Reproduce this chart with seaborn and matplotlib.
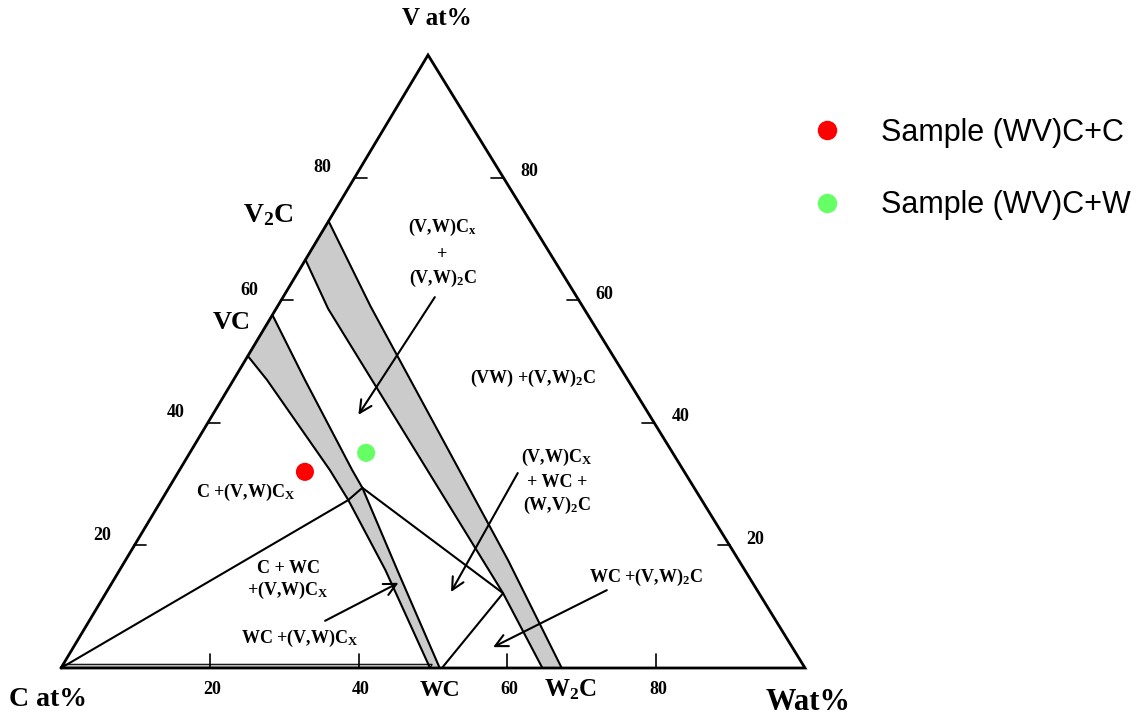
import numpy as np
import pandas as pd
import matplotlib
matplotlib.use("Agg")
import matplotlib.pyplot as plt
import seaborn as sns
from matplotlib.lines import Line2D

# ---------------- data: compositions in at% (W, V); C = 100 - W - V ----------------
tick_values = [20, 40, 60, 80]

# (V,W)Cx single-phase band (left / right boundaries, top -> bottom)
vc_left_w = [0.0, 4.5, 20.2, 25.1, 35.7, 49.6]
vc_left_v = [50.9, 47.0, 32.3, 27.4, 16.0, 0.0]
vc_right_w = [0.0, 9.6, 23.2, 26.0, 37.3, 50.9]
vc_right_v = [57.6, 47.0, 32.3, 29.4, 16.0, 0.0]

# (V,W)2C single-phase band
w2c_left_w = [0.0, 7.0, 48.0, 53.4, 64.7]
w2c_left_v = [66.6, 58.6, 17.6, 12.2, 0.0]
w2c_right_w = [0.0, 12.5, 51.4, 67.3]
w2c_right_v = [72.9, 59.0, 17.6, 0.0]

# tie lines
tie_c_w = [0.0, 25.1, 26.0]
tie_c_v = [0.0, 27.4, 29.4]
tie_3_w = [26.0, 53.4, 51.2]
tie_3_v = [29.4, 12.2, 0.0]
c_wc_w = [0.0, 49.6, 49.6, 0.0]
c_wc_v = [0.0, 0.0, 0.6, 0.6]

# arrows (start -> end)
arrow_start_w = [20.4, 45.7, 67.1, 31.7]
arrow_start_v = [60.5, 31.8, 12.7, 7.7]
arrow_end_w = [19.6, 46.3, 56.4, 38.5]
arrow_end_v = [41.3, 12.4, 3.4, 13.9]

# samples
sample_names = ["Sample (WV)C+C", "Sample (WV)C+W"]
sample_w = [17.0, 23.7]
sample_v = [32.0, 35.1]
sample_colors = ["#ff0000", "#66ff66"]

# region labels
region_labels = ["(V,W)C$_{\\mathrm{x}}$", "+", "(V,W)$_{\\mathrm{2}}$C",
                 "(VW) +(V,W)$_{\\mathrm{2}}$C",
                 "(V,W)C$_{\\mathrm{X}}$", "+ WC +", "(W,V)$_{\\mathrm{2}}$C",
                 "C +(V,W)C$_{\\mathrm{X}}$",
                 "C + WC", "+(V,W)C$_{\\mathrm{X}}$",
                 "WC +(V,W)C$_{\\mathrm{X}}$",
                 "WC +(V,W)$_{\\mathrm{2}}$C"]
region_w = [15.9, 18.0, 20.0, 40.1, 49.7, 51.7, 53.6, 10.7, 22.5, 24.2, 29.7, 71.4]
region_v = [71.8, 67.5, 63.5, 47.3, 34.4, 30.3, 26.6, 28.7, 16.3, 12.7, 4.9, 14.7]

phase_labels = ["V$_{\\mathrm{2}}$C", "VC", "WC", "W$_{\\mathrm{2}}$C"]
phase_w = [-8.6, -4.9, 52.7, 70.2]
phase_v = [73.9, 56.4, -3.6, -3.6]
phase_sizes = [20, 19, 17, 18]

axis_labels = ["V at%", "C at%", "Wat%"]
axis_w = [-1.8, 0.8, 103.2]
axis_v = [106.0, -5.2, -5.7]
axis_sizes = [18, 20, 22]

# ---------------- geometry ----------------
APEX = 0.4933


def to_xy(w, v):
    w = np.asarray(w, dtype=float) / 100.0
    v = np.asarray(v, dtype=float) / 100.0
    return w + APEX * v, v


sns.set_theme(style="white")
plt.rcParams["font.family"] = ["Liberation Serif", "DejaVu Serif"]
plt.rcParams["text.color"] = "black"
plt.rcParams["mathtext.fontset"] = "custom"
plt.rcParams["mathtext.rm"] = "Liberation Serif:bold"
plt.rcParams["mathtext.it"] = "Liberation Serif:italic:bold"
plt.rcParams["mathtext.bf"] = "Liberation Serif:bold"

fig = plt.figure(figsize=(11.42, 7.2), dpi=100)
ax = fig.add_axes([0, 0, 1, 1])

# bands
for lw_, lv_, rw_, rv_ in [(vc_left_w, vc_left_v, vc_right_w, vc_right_v),
                           (w2c_left_w, w2c_left_v, w2c_right_w, w2c_right_v)]:
    px, py = to_xy(list(lw_) + list(rw_)[::-1], list(lv_) + list(rv_)[::-1])
    ax.fill(px, py, facecolor="#cbcbcb", edgecolor="none", zorder=1)
    x1, y1 = to_xy(lw_, lv_)
    ax.plot(x1, y1, color="black", lw=1.5, zorder=3)
    x2, y2 = to_xy(rw_, rv_)
    ax.plot(x2, y2, color="black", lw=1.5, zorder=3)

# C + WC strip along the base
bx, by = to_xy(c_wc_w, c_wc_v)
ax.fill(bx, by, facecolor="#bdbdbd", edgecolor="black", lw=0.8, zorder=2)

# tie lines
for tw, tv in [(tie_c_w, tie_c_v), (tie_3_w, tie_3_v)]:
    x, y = to_xy(tw, tv)
    ax.plot(x, y, color="black", lw=1.5, zorder=3)

# triangle
tx, ty = to_xy([0, 100, 0, 0], [0, 0, 100, 0])
ax.plot(tx, ty, color="black", lw=2.0, zorder=4, solid_joinstyle="miter")

# ticks + tick labels
tick_h = 12 / 744
tick_vlen = 14 / 613
for t in tick_values:
    lx, ly = to_xy(0, t)
    ax.plot([lx, lx + tick_h], [ly, ly], color="black", lw=1.2, zorder=4)
    ax.annotate(str(t), xy=(lx, ly), xytext=(-32, 10), textcoords="offset pixels",
                ha="center", va="center", fontsize=13, fontweight="bold")
    rx, ry = to_xy(100 - t, t)
    ax.plot([rx - tick_h, rx], [ry, ry], color="black", lw=1.2, zorder=4)
    ax.annotate(str(t), xy=(rx, ry), xytext=(26, 6), textcoords="offset pixels",
                ha="center", va="center", fontsize=13, fontweight="bold")
    bxx, byy = to_xy(t, 0)
    ax.plot([bxx, bxx], [byy, byy + tick_vlen], color="black", lw=1.2, zorder=4)
    ax.annotate(str(t), xy=(bxx, byy), xytext=(2, -22), textcoords="offset pixels",
                ha="center", va="center", fontsize=13, fontweight="bold")

# arrows
sx, sy = to_xy(arrow_start_w, arrow_start_v)
ex, ey = to_xy(arrow_end_w, arrow_end_v)
for i in range(len(sx)):
    ax.annotate("", xy=(ex[i], ey[i]), xytext=(sx[i], sy[i]),
                arrowprops=dict(arrowstyle="->", lw=1.5, color="black",
                                mutation_scale=22, shrinkA=0, shrinkB=0),
                zorder=5)

# samples
smx, smy = to_xy(sample_w, sample_v)
df = pd.DataFrame({"x": smx, "y": smy, "sample": sample_names})
sns.scatterplot(data=df, x="x", y="y", hue="sample", palette=sample_colors,
                s=170, edgecolor="none", legend=False, ax=ax, zorder=6)
ax.set_xlim(-61 / 744, (1142 - 61) / 744)
ax.set_ylim(-(720 - 668) / 613, 668 / 613)
ax.set_axis_off()

# texts
rx_, ry_ = to_xy(region_w, region_v)
for s, x, y in zip(region_labels, rx_, ry_):
    ax.text(x, y, s, ha="center", va="center", fontsize=13, fontweight="bold", zorder=7)
px_, py_ = to_xy(phase_w, phase_v)
for s, x, y, fs in zip(phase_labels, px_, py_, phase_sizes):
    ax.text(x, y, s, ha="center", va="center", fontsize=fs, fontweight="bold", zorder=7)
ax_, ay_ = to_xy(axis_w, axis_v)
for s, x, y, fs in zip(axis_labels, ax_, ay_, axis_sizes):
    ax.text(x, y, s, ha="center", va="center", fontsize=fs, fontweight="bold", zorder=7)

# legend
handles = [Line2D([], [], marker="o", linestyle="", markersize=13,
                  markerfacecolor=c, markeredgecolor=c) for c in sample_colors]
leg = ax.legend(handles, sample_names, loc="center left",
                bbox_to_anchor=(812 / 1142, 1 - 169 / 720), bbox_transform=fig.transFigure,
                frameon=False, borderpad=0, borderaxespad=0, handlelength=1.0,
                handletextpad=1.25, labelspacing=1.4,
                prop={"family": "Liberation Sans", "size": 22})
for txt in leg.get_texts():
    txt.set_color("black")

fig.savefig("out.png", dpi=100)
